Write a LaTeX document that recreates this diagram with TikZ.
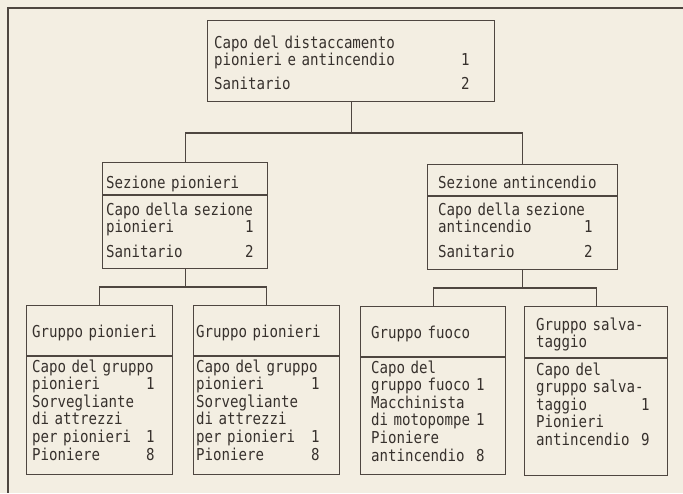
\documentclass[tikz,border=0pt]{standalone}
\usepackage{fontspec}
\newfontfamily\orgmono[FakeStretch=0.86]{DejaVu Sans Mono}
\definecolor{bgc}{RGB}{243,238,226}
\definecolor{linec}{RGB}{78,70,64}
\definecolor{txtc}{RGB}{55,49,45}
\newcommand\rw[3]{\makebox[#1][l]{#2}\llap{#3}}
\begin{document}
\begin{tikzpicture}[x=1pt,y=-1pt,
  box/.style={draw=linec, line width=1.2pt, inner sep=0pt, anchor=north west},
  bodybox/.style={draw=linec, line width=1.2pt, inner sep=0pt, anchor=north},
  conn/.style={draw=linec, line width=1.2pt},
  frame/.style={draw=linec, line width=1.5pt},
  txt/.style={anchor=base west, inner sep=0pt, text width=165pt, align=left, text=txtc,
    font=\orgmono\fontsize{16.4}{17}\selectfont},
  txtb/.style={txt, font=\orgmono\fontsize{16.4}{17.6}\selectfont}]
\useasboundingbox (0,0) rectangle (683,493);
\fill[bgc] (0,0) rectangle (683,493);
% outer frame
\coordinate (fr1) at (683,8);
\coordinate (fr2) at (8,8);
\coordinate (fr3) at (8,493);
\draw[frame] (fr1) -- (fr2) -- (fr3);
% top box
\node[box, minimum width=287pt, minimum height=81pt] (top) at (207,20) {};
\node[txt, text width=262pt] (topt) at (214,48) {Capo del distaccamento\\
\rw{255.4pt}{pionieri e antincendio}{1}\\[7.5pt]
\rw{255.4pt}{Sanitario}{2}};
% section pionieri
\node[box, minimum width=165pt, minimum height=32pt] (sp) at (102,162) {};
\node[bodybox, minimum width=165pt, minimum height=73pt] (spb) at (sp.south) {};
\node[txt] (spt) at (106,188) {Sezione pionieri};
\node[txt] (spbt) at (106,215) {Capo della sezione\\
\rw{147.4pt}{pionieri}{1}\\[8pt]
\rw{147.4pt}{Sanitario}{2}};
% section antincendio
\node[box, minimum width=190pt, minimum height=31pt] (sa) at (427,164) {};
\node[bodybox, minimum width=190pt, minimum height=73pt] (sab) at (sa.south) {};
\node[txt] (sat) at (438,188) {Sezione antincendio};
\node[txt] (sabt) at (438,215) {Capo della sezione\\
\rw{154.4pt}{antincendio}{1}\\[8pt]
\rw{154.4pt}{Sanitario}{2}};
% gruppo pionieri 1
\node[box, minimum width=146pt, minimum height=50pt] (g1) at (26,305) {};
\node[bodybox, minimum width=146pt, minimum height=118pt] (g1b) at (g1.south) {};
\node[txtb] (g1t) at (32,337) {Gruppo pionieri};
\node[txtb] (g1bt) at (32,372) {Capo del gruppo\\
\rw{122.4pt}{pionieri}{1}\\
Sorvegliante\\
di attrezzi\\
\rw{122.4pt}{per pionieri}{1}\\
\rw{122.4pt}{Pioniere}{8}};
% gruppo pionieri 2
\node[box, minimum width=146pt, minimum height=50pt] (g2) at (193,305) {};
\node[bodybox, minimum width=146pt, minimum height=118pt] (g2b) at (g2.south) {};
\node[txtb] (g2t) at (196,337) {Gruppo pionieri};
\node[txtb] (g2bt) at (196,372) {Capo del gruppo\\
\rw{123.4pt}{pionieri}{1}\\
Sorvegliante\\
di attrezzi\\
\rw{123.4pt}{per pionieri}{1}\\
\rw{123.4pt}{Pioniere}{8}};
% gruppo fuoco
\node[box, minimum width=145pt, minimum height=50pt] (g3) at (360,306) {};
\node[bodybox, minimum width=145pt, minimum height=117pt] (g3b) at (g3.south) {};
\node[txtb] (g3t) at (371,338) {Gruppo fuoco};
\node[txtb] (g3bt) at (371,373) {Capo del\\
\rw{113.4pt}{gruppo fuoco}{1}\\
Macchinista\\
\rw{113.4pt}{di motopompe}{1}\\
Pioniere\\
\rw{113.4pt}{antincendio}{8}};
% gruppo salvataggio
\node[box, minimum width=143pt, minimum height=51pt] (g4) at (524,306) {};
\node[bodybox, minimum width=143pt, minimum height=117pt] (g4b) at (g4.south) {};
\node[txtb] (g4t) at (536,330) {Gruppo salva-\\taggio};
\node[txtb] (g4bt) at (536,375) {Capo del\\
gruppo salva-\\
\rw{113.4pt}{taggio}{1}\\
Pionieri\\
\rw{113.4pt}{antincendio}{9}};
% connectors
\coordinate (busA) at (0,133);
\coordinate (busB) at (0,287);
\coordinate (busC) at (0,288);
\draw[conn] (top.south) -- (top.south |- busA);
\draw[conn] (sp.north) -- (sp.north |- busA) -- (sa.north |- busA) -- (sa.north);
\draw[conn] (spb.south) -- (spb.south |- busB);
\draw[conn] (g1.north) -- (g1.north |- busB) -- (g2.north |- busB) -- (g2.north);
\draw[conn] (sab.south) -- (sab.south |- busC);
\draw[conn] (g3.north) -- (g3.north |- busC) -- (g4.north |- busC) -- (g4.north);
\end{tikzpicture}
\end{document}
